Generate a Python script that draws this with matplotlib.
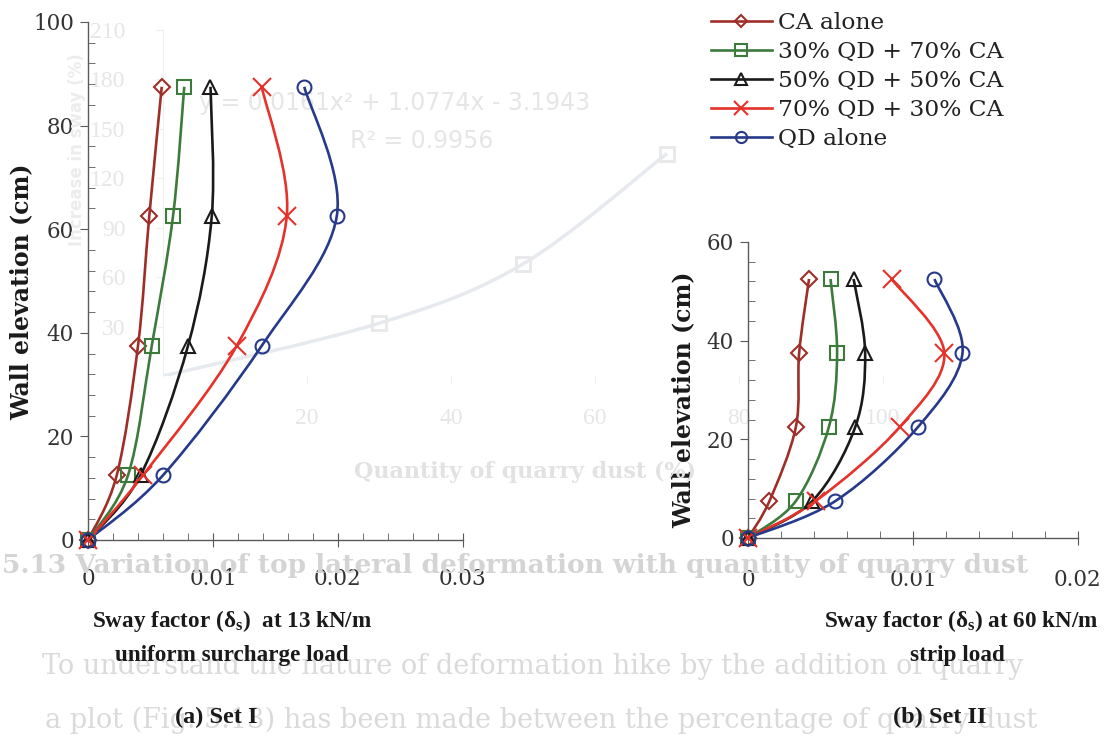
import matplotlib
matplotlib.use("Agg")
import matplotlib.pyplot as plt
import matplotlib.ticker as mticker
from matplotlib.path import Path
from matplotlib.patches import PathPatch
from matplotlib.lines import Line2D
import numpy as np

# ---------------------------------------------------------------------------
# data
# ---------------------------------------------------------------------------
series_names = ["CA alone", "30% QD + 70% CA", "50% QD + 50% CA",
                "70% QD + 30% CA", "QD alone"]

# (a) Set I : sway factor at 13 kN/m uniform surcharge load
elev_set1 = [0, 12.5, 37.5, 62.5, 87.5]
ca_set1 = [0, 0.0023, 0.0040, 0.0049, 0.0059]
qd30_set1 = [0, 0.0032, 0.0051, 0.0068, 0.0077]
qd50_set1 = [0, 0.0042, 0.0080, 0.0099, 0.0098]
qd70_set1 = [0, 0.0044, 0.0119, 0.0159, 0.0139]
qd_set1 = [0, 0.0060, 0.0139, 0.0199, 0.0173]

# (b) Set II : sway factor at 60 kN/m strip load
elev_set2 = [0, 7.5, 22.5, 37.5, 52.5]
ca_set2 = [0, 0.0013, 0.0029, 0.0031, 0.0037]
qd30_set2 = [0, 0.0029, 0.0049, 0.0054, 0.0050]
qd50_set2 = [0, 0.0039, 0.0065, 0.0071, 0.0064]
qd70_set2 = [0, 0.0041, 0.0092, 0.0119, 0.0087]
qd_set2 = [0, 0.0053, 0.0103, 0.0130, 0.0113]

# faint show-through chart from the facing page
ghost_dust = [0, 30, 50, 70]
ghost_sway = [0, 32, 68, 135]
ghost_xticks = [20, 40, 60, 80, 100]
ghost_yticks = [30, 60, 90, 120, 150, 180, 210]

colors = ["#9e2f28", "#3d7b3d", "#1a1a1a", "#e5322b", "#26398a"]
markers = ["D", "s", "^", "x", "o"]
msizes = [8, 10, 10, 13, 10]

TICK_COLOR = "#333333"
GHOST = "#e6e6e6"


def smooth_path(xs, ys):
    # smoothed line through the points (Catmull-Rom as bezier segments)
    pts = np.column_stack([xs, ys]).astype(float)
    n = len(pts)
    verts = [pts[0]]
    codes = [Path.MOVETO]
    for i in range(n - 1):
        p0 = pts[max(i - 1, 0)]
        p1 = pts[i]
        p2 = pts[i + 1]
        p3 = pts[min(i + 2, n - 1)]
        verts += [p1 + (p2 - p0) / 6, p2 - (p3 - p1) / 6, p2]
        codes += [Path.CURVE4] * 3
    return Path(verts, codes)


def style_axes(ax, xmax, ymax, xpad):
    ax.set_xlim(0, xmax)
    ax.set_ylim(0, ymax)
    ax.patch.set_alpha(0)
    for s in ["top", "right"]:
        ax.spines[s].set_visible(False)
    for s in ["left", "bottom"]:
        ax.spines[s].set_color("#5a5a5a")
        ax.spines[s].set_linewidth(1.0)
    ax.xaxis.set_major_locator(mticker.MultipleLocator(0.01))
    ax.xaxis.set_minor_locator(mticker.MultipleLocator(0.002))
    ax.yaxis.set_major_locator(mticker.MultipleLocator(20))
    ax.yaxis.set_minor_locator(mticker.MultipleLocator(4))
    ax.xaxis.set_major_formatter(mticker.FuncFormatter(
        lambda v, p: "0" if abs(v) < 1e-9 else f"{v:.2f}"))
    ax.tick_params(which="both", colors="#5a5a5a", labelcolor=TICK_COLOR,
                   labelsize=15.5)
    ax.tick_params(axis="x", which="major", direction="inout", length=10,
                   pad=xpad)
    ax.tick_params(axis="y", which="major", direction="out", length=6, pad=4)
    ax.tick_params(which="minor", direction="in", length=5)
    for lab in ax.get_xticklabels() + ax.get_yticklabels():
        lab.set_family("DejaVu Serif")


def draw_set(ax, elev, values):
    for vals, c, m, ms in zip(values, colors, markers, msizes):
        ax.add_patch(PathPatch(smooth_path(vals, elev), fill=False,
                               edgecolor=c, lw=1.9, zorder=3))
        ax.plot(vals, elev, ls="none", marker=m, ms=ms, mfc="none",
                mec=c, mew=1.5, zorder=4, clip_on=False)


W, H = 1109, 747
fig = plt.figure(figsize=(W / 100, H / 100), dpi=100)
fig.patch.set_facecolor("white")


def px_axes(x0, x1, y_top, y_bot, **kw):
    return fig.add_axes([x0 / W, 1 - y_bot / H, (x1 - x0) / W, (y_bot - y_top) / H], **kw)


# ---------------- ghost chart (show-through) ----------------
gax = px_axes(163, 883, 30, 376, zorder=0)
gax.set_xlim(0, 100)
gax.set_ylim(0, 210)
gax.patch.set_alpha(0)
for s in ["top", "right", "bottom"]:
    gax.spines[s].set_visible(False)
gax.spines["left"].set_color("#f0f0f0")
gax.add_patch(PathPatch(smooth_path(ghost_dust, ghost_sway), fill=False,
                        edgecolor="#e6e9ee", lw=2.5))
gax.plot(ghost_dust[1:], ghost_sway[1:], ls="none", marker="s", ms=10,
         mfc="none", mec="#e8e8e8", mew=2)
gax.set_xticks(ghost_xticks)
gax.set_yticks(ghost_yticks)
gax.tick_params(colors="#f0f0f0", labelcolor=GHOST, labelsize=17, length=5)
gax.tick_params(axis="x", pad=18)
gax.tick_params(axis="y", pad=22)
for lab in gax.get_xticklabels() + gax.get_yticklabels():
    lab.set_family("Liberation Serif")
gax.text(0.05, 0.77, "y = 0.0161x\u00b2 + 1.0774x - 3.1943", transform=gax.transAxes,
         fontsize=17, color=GHOST, family="DejaVu Sans")
gax.text(0.26, 0.66, "R\u00b2 = 0.9956", transform=gax.transAxes,
         fontsize=17, color=GHOST, family="DejaVu Sans")
fig.text(525 / W, 1 - 472 / H, "Quantity of quarry dust (%)", ha="center", va="center",
         fontsize=16, color="#e2e2e2", family="DejaVu Serif", fontweight="bold")
fig.text(77 / W, 1 - 150 / H, "Increase in sway (%)", ha="center", va="center",
         rotation=90, fontsize=12, color="#ececec", family="DejaVu Sans", fontweight="bold")

fig.text(2 / W, 1 - 565 / H,
         "5.13 Variation of top lateral deformation with quantity of quarry dust",
         ha="left", va="center", fontsize=19, color="#d4d4d4",
         family="DejaVu Serif", fontweight="bold")
fig.text(42 / W, 1 - 667 / H,
         "To understand the nature of deformation hike by the addition of quarry",
         ha="left", va="center", fontsize=19.5, color="#dadada", family="DejaVu Serif")
fig.text(45 / W, 1 - 720 / H,
         "a plot (Fig. 5.13) has been made between the percentage of quarry dust",
         ha="left", va="center", fontsize=19.5, color="#dadada", family="DejaVu Serif")

# ---------------- (a) Set I ----------------
ax1 = px_axes(88, 463, 22, 540, zorder=2)
style_axes(ax1, 0.03, 100, 15)
draw_set(ax1, elev_set1, [ca_set1, qd30_set1, qd50_set1, qd70_set1, qd_set1])
ax1.set_ylabel("Wall elevation (cm)", fontsize=17, fontweight="bold",
               family="DejaVu Serif", color="#1a1a1a")
# label anchor is the baseline side of the rotated text
ax1.yaxis.set_label_coords((33 - 88) / 375, (540 - 292) / 518)

# ---------------- (b) Set II ----------------
ax2 = px_axes(748, 1078, 242, 538, zorder=2)
style_axes(ax2, 0.02, 60, 17)
draw_set(ax2, elev_set2, [ca_set2, qd30_set2, qd50_set2, qd70_set2, qd_set2])
ax2.set_ylabel("Wall elevation (cm)", fontsize=17, fontweight="bold",
               family="DejaVu Serif", color="#1a1a1a")
ax2.yaxis.set_label_coords((695 - 748) / 330, (538 - 400) / 296)

# legend
handles = [Line2D([], [], color=c, lw=1.9, marker=m, ms=ms * 0.8, mfc="none",
                  mec=c, mew=1.5)
           for c, m, ms in zip(colors, markers, msizes)]
leg = fig.legend(handles, series_names, loc="upper left",
                 bbox_to_anchor=(711 / W, 1 - 12 / H), frameon=False,
                 prop={"family": "DejaVu Serif", "size": 16.8}, handlelength=2.6,
                 handletextpad=0.25, labelspacing=0.3, borderpad=0,
                 borderaxespad=0, labelcolor="#222222")
leg.set_zorder(5)

# bottom captions
lab_font = {"family": "Liberation Serif", "weight": "bold", "size": 16.7,
            "color": "#1a1a1a"}
fig.text(232 / W, 1 - 621 / H, "Sway factor (\u03b4$_\\mathregular{s}$)  at 13 kN/m",
         ha="center", va="center", zorder=5, **lab_font)
fig.text(232 / W, 1 - 656 / H, "uniform surcharge load", ha="center", va="center",
         zorder=5, **lab_font)
fig.text(961 / W, 1 - 621 / H, "Sway factor (\u03b4$_\\mathregular{s}$) at 60 kN/m",
         ha="center", va="center", zorder=5, **lab_font)
fig.text(957 / W, 1 - 656 / H, "strip load", ha="center", va="center", zorder=5,
         **lab_font)
set_font = dict(lab_font, size=17.5)
fig.text(216 / W, 1 - 717 / H, "(a) Set I", ha="center", va="center", zorder=5,
         **set_font)
fig.text(940 / W, 1 - 717 / H, "(b) Set II", ha="center", va="center", zorder=5,
         **set_font)

fig.savefig("out.png", dpi=100, facecolor=fig.get_facecolor())
